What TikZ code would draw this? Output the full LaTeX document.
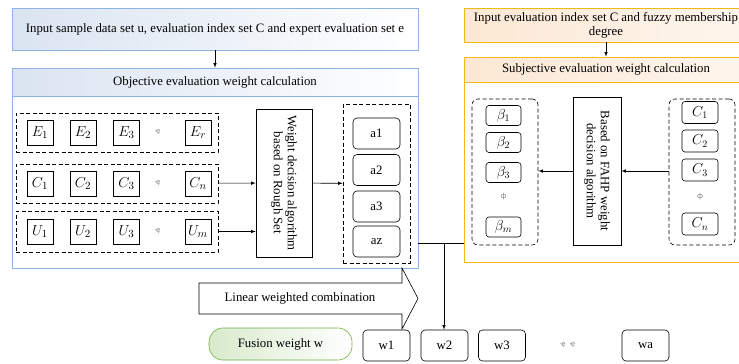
\documentclass[tikz,border=0pt]{standalone}
\usepackage{fontspec}
\setmainfont{Liberation Serif}
\newfontfamily\dotfont{DejaVu Sans}
\usetikzlibrary{arrows}

\definecolor{objblue}{RGB}{141,180,226}
\definecolor{objfill}{RGB}{218,228,241}
\definecolor{subyellow}{RGB}{245,185,20}
\definecolor{subfill}{RGB}{252,232,212}
\definecolor{fusgreen}{RGB}{112,173,71}
\definecolor{fusfill}{RGB}{216,234,204}

\begin{document}
\begin{tikzpicture}[x=1pt,y=-1pt,
  font=\fontsize{12.8}{14}\selectfont,
  every node/.style={inner sep=0pt},
  line width=0.6pt,
  objbox/.style={draw=objblue,left color=objfill,right color=white},
  subbox/.style={draw=subyellow,left color=subfill,right color=subfill!40},
  sq/.style={draw,minimum width=26,minimum height=25,font=\fontsize{15}{16}\selectfont},
  rbox/.style={draw,rounded corners=4pt,minimum width=47,minimum height=31},
  sbox/.style={draw,rounded corners=3pt,minimum width=36,minimum height=20,
    font=\fontsize{14.5}{16}\selectfont},
  grp/.style={draw,dash pattern=on 4pt off 2.5pt},
  algo/.style={draw,rotate=-90,align=center,minimum width=148},
  gdots/.style={text=gray,font=\dotfont\fontsize{7}{8}\selectfont}]
  \useasboundingbox (0,0) rectangle (739,364);

  % objective part
  \node[objbox,minimum width=406,minimum height=42] (inU) at (215,29)
    {Input sample data set u, evaluation index set C and expert evaluation set e};
  \node[objbox,minimum width=406,minimum height=28] (objH) at (215,82)
    {Objective evaluation weight calculation};
  \node[draw=objblue,minimum width=406,minimum height=172] (objB) at (215,182) {};
  \draw[-latex] (inU) -- (objH);

  \node[grp,minimum width=202,minimum height=39] (gE) at (117,132.5) {};
  \node[grp,minimum width=202,minimum height=39] (gC) at (117,183.5) {};
  \node[grp,minimum width=202,minimum height=41] (gU) at (117,231.5) {};
  \foreach \i/\x in {1/40,2/83,3/126.5}{
    \node[sq] (E\i) at (\x,132.5) {$E_{\i}$};
    \node[sq] (C\i) at (\x,183.5) {$C_{\i}$};
    \node[sq] (U\i) at (\x,231.5) {$U_{\i}$};
  }
  \node[sq] (Er) at (198,132.5) {$E_r$};
  \node[sq] (Cn) at (198,183.5) {$C_n$};
  \node[sq] (Um) at (198,231.5) {$U_m$};
  \foreach \y in {132.5,183.5,231.5}
    \node[gdots] at (158,\y) {ҿ};

  \node[algo,minimum height=56] (rough) at (284,183)
    {Weight decision algorithm\\based on Rough Set};

  \node[grp,minimum width=67,minimum height=159] (gA) at (376.5,183.5) {};
  \node[rbox] (a1) at (376.5,133.5) {a1};
  \node[rbox] (a2) at (376.5,170) {a2};
  \node[rbox] (a3) at (376.5,206.5) {a3};
  \node[rbox] (az) at (376.5,241.5) {az};

  \path[-latex]
  (gC) edge (rough)
  (gU.east) edge (rough.south |- gU.east)
  (rough) edge (gA)
  ;

  % subjective part
  \node[subbox,minimum width=284,minimum height=34,align=center] (inC) at (606,25)
    {Input evaluation index set C and fuzzy membership\\degree};
  \node[subbox,minimum width=284,minimum height=25] (subH) at (606,69.5)
    {Subjective evaluation weight calculation};
  \node[draw=subyellow,minimum width=284,minimum height=180] (subB) at (606,172) {};
  \draw[-latex] (inC) -- (subH);

  \node[grp,rounded corners=6pt,minimum width=66,minimum height=146] (gB) at (505,172) {};
  \node[sbox,minimum width=35] (b1) at (503.5,115.5) {$\beta_1$};
  \node[sbox,minimum width=35] (b2) at (503.5,142.5) {$\beta_2$};
  \node[sbox,minimum width=35] (b3) at (503.5,172.5) {$\beta_3$};
  \node[sbox,minimum width=35] (bm) at (503.5,227) {$\beta_m$};
  \node[gdots] at (503.5,197) {ф};

  \node[algo,minimum height=48] (fahp) at (597,171)
    {Based on FAHP weight\\decision algorithm};

  \node[grp,rounded corners=6pt,minimum width=66,minimum height=146] (gC2) at (702,172) {};
  \node[sbox,minimum height=22] (c1) at (700,112.5) {$C_1$};
  \node[sbox,minimum height=22] (c2) at (700,141) {$C_2$};
  \node[sbox,minimum height=22] (c3) at (700,170) {$C_3$};
  \node[sbox,minimum height=22] (cn) at (700,224) {$C_n$};
  \node[gdots] at (700,197) {ф};

  \path[-latex]
  (gC2.west |- fahp) edge (fahp)
  (fahp) edge (gB.east |- fahp)
  ;

  % fusion
  \coordinate (jn) at (444,243);
  \draw (objB.east |- jn) -- (subB.west |- jn);
  \draw (199,283) -- (402,283) -- (402,268) -- (418,298.5) -- (402,329)
    -- (402,314) -- (199,314) -- cycle;
  \node (lwc) at (300,298.5) {Linear weighted combination};

  \node[draw=fusgreen,rounded corners=14pt,left color=fusfill,right color=white,
    minimum width=143,minimum height=32] (fw) at (280.5,344) {Fusion weight w};
  \node[rbox] (w1) at (386.5,345.5) {w1};
  \node[rbox] (w2) at (444.5,345.5) {w2};
  \node[rbox] (w3) at (502,345.5) {w3};
  \node[gdots] at (568,345.5) {ҿ\ \ ҿ};
  \node[rbox] (wa) at (645.5,345.5) {wa};
  \draw[-latex] (jn) -- (w2.north -| jn);
\end{tikzpicture}
\end{document}
